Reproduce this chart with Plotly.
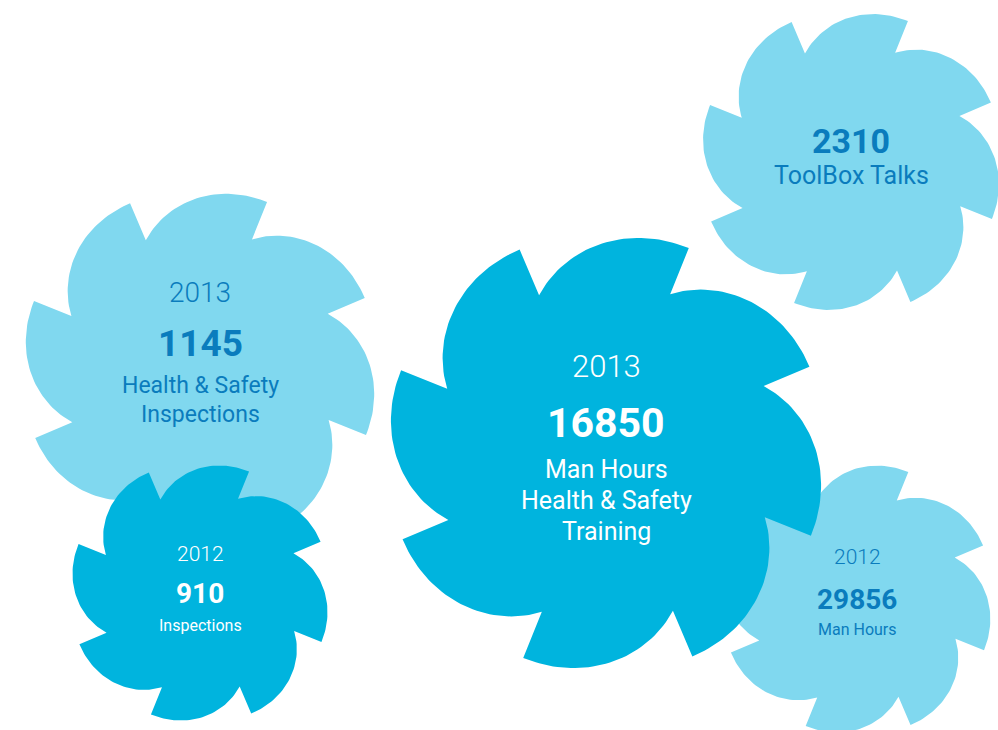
import numpy as np
import plotly.graph_objects as go

# ---- data ----
years = ["2013", "", "2013", "2012", "2012"]
values = ["16850", "2310", "1145", "910", "29856"]
labels = [
    ["Man Hours", "Health &amp; Safety", "Training"],
    ["ToolBox Talks"],
    ["Health &amp; Safety", "Inspections"],
    ["Inspections"],
    ["Man Hours"],
]

# ---- layout of the badges (pixel space) ----
DARK = "#00B4DE"
LIGHT = "#80D8EF"
TXT_DARK = "#0A7CBD"
badges = [
    dict(cx=851, cy=162, r=152, fill=LIGHT, tc=TXT_DARK, ys=0, vs=34, ls=25,
         yy=None, vy=141, ly=[175]),
    dict(cx=200, cy=368, r=179, fill=LIGHT, tc=TXT_DARK, ys=28, vs=37, ls=23,
         yy=292, vy=343, ly=[385, 414]),
    dict(cx=200, cy=593, r=131, fill=DARK, tc="white", ys=21, vs=28, ls=16,
         yy=554, vy=593, ly=[625]),
    dict(cx=857, cy=599, r=137, fill=LIGHT, tc=TXT_DARK, ys=21, vs=28, ls=16,
         yy=557, vy=599, ly=[629]),
    dict(cx=606, cy=453, r=221, fill=DARK, tc="white", ys=31, vs=41, ls=25,
         yy=366, vy=423, ly=[469, 500, 531]),
]
data_idx = [1, 2, 3, 4, 0]

ROT = 22.0
N = 8
INNER = 0.775


def pinwheel(cx, cy, r_out):
    r_in = r_out * INNER
    xs, ys = [], []
    for k in range(N):
        a0 = np.radians(ROT + 45 * k)
        t = np.linspace(0, 1, 40)
        ang = a0 + t * np.radians(45)
        rr = r_in + (r_out - r_in) * (1 - (1 - t) ** 2.2)
        xs.extend(cx + rr * np.cos(ang))
        ys.extend(cy + rr * np.sin(ang))
    xs.append(xs[0]); ys.append(ys[0])
    return xs, ys


fig = go.Figure()
annotations = []
fam = "Roboto"
for b, di in zip(badges, data_idx):
    x, y = pinwheel(b["cx"], b["cy"], b["r"])
    fig.add_trace(go.Scatter(x=x, y=y, mode="lines", fill="toself",
                             fillcolor=b["fill"], line=dict(width=0),
                             hoverinfo="skip", showlegend=False))
    if years[di] and b["yy"] is not None:
        annotations.append(dict(x=b["cx"], y=b["yy"], text=years[di], showarrow=False,
                                xanchor="center", yanchor="middle",
                                font=dict(family=fam, size=b["ys"], color=b["tc"], weight=300)))
    annotations.append(dict(x=b["cx"], y=b["vy"], text="<b>%s</b>" % values[di], showarrow=False,
                            xanchor="center", yanchor="middle",
                            font=dict(family=fam, size=b["vs"], color=b["tc"])))
    for ly, lab in zip(b["ly"], labels[di]):
        annotations.append(dict(x=b["cx"], y=ly, text=lab, showarrow=False,
                                xanchor="center", yanchor="middle",
                                font=dict(family=fam, size=b["ls"], color=b["tc"], weight=400)))

fig.update_layout(
    width=998, height=730,
    margin=dict(l=0, r=0, t=0, b=0),
    paper_bgcolor="white", plot_bgcolor="white",
    xaxis=dict(range=[0, 998], visible=False, fixedrange=True),
    yaxis=dict(range=[730, 0], visible=False, fixedrange=True),
    annotations=annotations,
    showlegend=False,
)
fig.write_html("out.html", config={"displayModeBar": False},
               post_script="document.body.style.margin='0';document.body.style.overflow='hidden';")
